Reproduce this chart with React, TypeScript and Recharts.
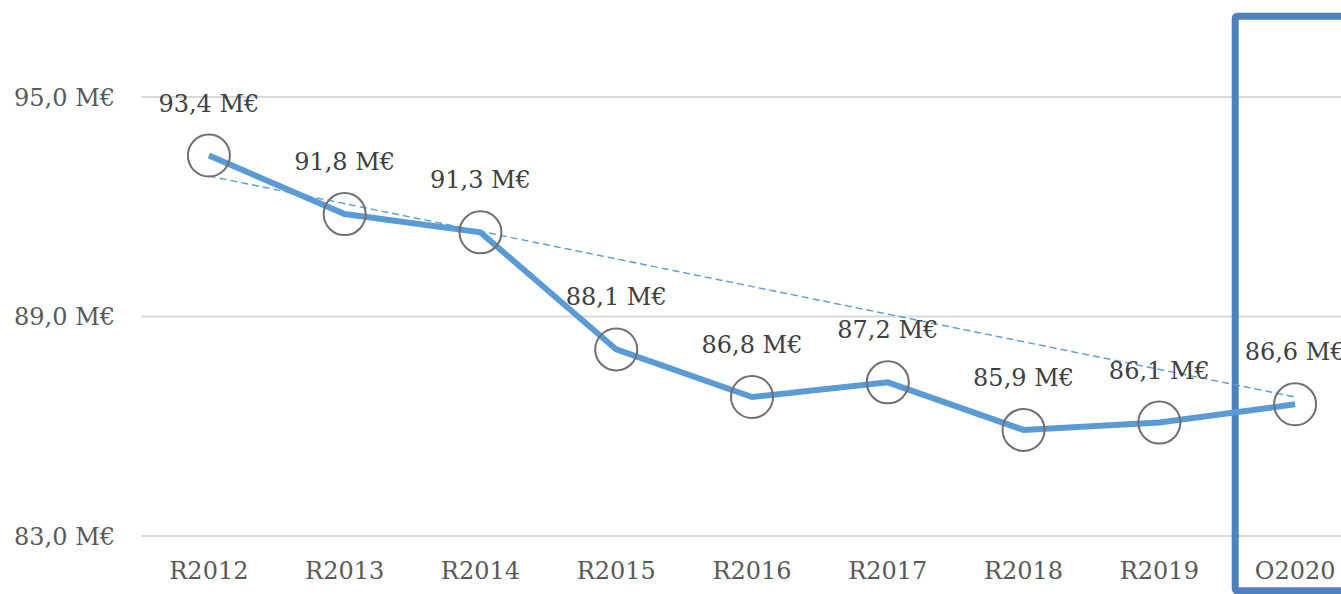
import React from 'react';
import { LineChart, Line, XAxis, YAxis, CartesianGrid, LabelList, ReferenceArea } from 'recharts';

const categories = ['R2012', 'R2013', 'R2014', 'R2015', 'R2016', 'R2017', 'R2018', 'R2019', 'O2020'];
const values = [93.4, 91.8, 91.3, 88.1, 86.8, 87.2, 85.9, 86.1, 86.6];
const trendValues: (number | null)[] = [92.84, null, null, null, null, null, null, null, 86.8];
const yTicks = [83, 89, 95];
const highlightCategory = 'O2020';
const highlightTop = 97.21;
const highlightBottom = 81.5;

const data = categories.map((c, i) => ({ cat: c, value: values[i], trend: trendValues[i] }));

const fmt = (v: number) => v.toFixed(1).replace('.', ',') + ' M€';
const FONT = '"DejaVu Serif", serif';

const HighlightShape = (props: any) => {
  const { x, y, width, height } = props;
  const inset = 8;
  return (
    <rect
      x={x + inset}
      y={y}
      width={width - inset + 20}
      height={height}
      fill="none"
      stroke="#4f81bd"
      strokeWidth={7}
      strokeLinejoin="round"
      rx={2}
    />
  );
};

export default function App() {
  return (
    <div style={{ position: 'absolute', left: 0, top: 0, width: 1341, height: 594, overflow: 'hidden', background: '#fff' }}>
      <LineChart width={1363} height={594} data={data} margin={{ top: 0, right: 0, bottom: 0, left: 0 }}>
        <CartesianGrid horizontal vertical={false} horizontalValues={yTicks} stroke="#d9d9d9" strokeWidth={2} />
        <XAxis
          dataKey="cat"
          scale="band"
          height={58}
          axisLine={false}
          tickLine={false}
          tickMargin={20}
          tick={{ fill: '#595959', fontSize: 24, fontFamily: FONT }}
          interval={0}
        />
        <YAxis
          width={141}
          domain={[83, 97.652]}
          ticks={yTicks}
          axisLine={false}
          tickLine={false}
          tickMargin={20}
          tickFormatter={fmt}
          tick={{ fill: '#595959', fontSize: 24, fontFamily: FONT }}
          allowDataOverflow
        />
        <Line
          dataKey="trend"
          stroke="#5b9bd5"
          strokeWidth={1.4}
          strokeDasharray="7 4"
          dot={false}
          activeDot={false}
          connectNulls
          isAnimationActive={false}
        />
        <Line
          dataKey="value"
          stroke="#5b9bd5"
          strokeWidth={6}
          dot={{ r: 21, stroke: '#6f6f6f', strokeWidth: 2, fill: 'none' }}
          activeDot={false}
          isAnimationActive={false}
        >
          <LabelList
            dataKey="value"
            position="top"
            offset={44}
            formatter={(v: any) => fmt(Number(v))}
            style={{ fill: '#404040', fontSize: 24, fontFamily: FONT }}
          />
        </Line>
        <ReferenceArea
          x1={highlightCategory}
          x2={highlightCategory}
          y1={highlightBottom}
          y2={highlightTop}
          ifOverflow="visible"
          shape={<HighlightShape />}
        />
      </LineChart>
    </div>
  );
}
